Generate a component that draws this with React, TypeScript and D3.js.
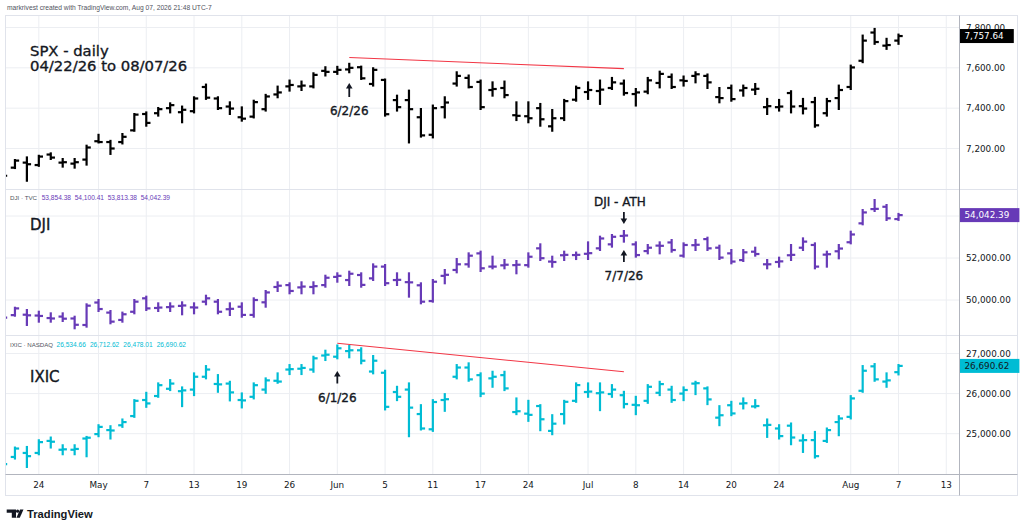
import * as d3 from 'd3'

const W = 1023
const H = 530

// bar index 0 = Apr 21 2026 (partly hidden at the left edge), 75 = Aug 7 2026
const tickIdx = [3, 8, 12, 16, 20, 24, 28, 32, 36, 40, 44, 49, 53, 57, 61, 65, 71, 75, 79]
const tickText = ['24', 'May', '7', '13', '19', '26', 'Jun', '5', '11', '17', '24', 'Jul', '8', '14', '20', '24', 'Aug', '7', '13']

// SPX daily OHLC
const spxO = [7060, 7105, 7130, 7118, 7170, 7130, 7125, 7145, 7236, 7232, 7232, 7290, 7371, 7375, 7400, 7380, 7385, 7505, 7448, 7408, 7355, 7358, 7395, 7468, 7508, 7508, 7508, 7585, 7580, 7592, 7603, 7520, 7540, 7440, 7440, 7355, 7268, 7405, 7522, 7550, 7530, 7490, 7500, 7365, 7360, 7400, 7310, 7350, 7442, 7480, 7485, 7500, 7522, 7470, 7482, 7525, 7555, 7538, 7560, 7560, 7455, 7500, 7488, 7492, 7405, 7405, 7475, 7410, 7430, 7375, 7450, 7505, 7635, 7775, 7710, 7735]
const spxH = [7080, 7143, 7156, 7164, 7176, 7148, 7148, 7214, 7268, 7238, 7272, 7371, 7379, 7401, 7424, 7408, 7454, 7517, 7454, 7429, 7404, 7437, 7466, 7507, 7537, 7532, 7573, 7603, 7605, 7620, 7606, 7598, 7542, 7462, 7487, 7396, 7413, 7454, 7578, 7562, 7537, 7528, 7532, 7429, 7429, 7421, 7391, 7441, 7507, 7528, 7537, 7550, 7537, 7495, 7550, 7581, 7567, 7557, 7578, 7567, 7500, 7512, 7512, 7520, 7446, 7441, 7484, 7446, 7451, 7446, 7512, 7611, 7760, 7793, 7744, 7765]
const spxL = [7050, 7103, 7040, 7114, 7148, 7110, 7105, 7120, 7230, 7173, 7225, 7288, 7313, 7363, 7379, 7330, 7379, 7446, 7396, 7371, 7338, 7354, 7388, 7454, 7487, 7490, 7503, 7562, 7570, 7578, 7545, 7512, 7363, 7388, 7230, 7259, 7255, 7354, 7512, 7503, 7396, 7462, 7454, 7341, 7330, 7313, 7288, 7341, 7437, 7446, 7421, 7495, 7467, 7413, 7474, 7503, 7500, 7512, 7528, 7500, 7429, 7437, 7462, 7470, 7371, 7388, 7379, 7374, 7308, 7363, 7396, 7495, 7628, 7719, 7694, 7719]
const spxC = [7065, 7140, 7122, 7160, 7155, 7132, 7132, 7205, 7232, 7200, 7258, 7368, 7327, 7395, 7415, 7392, 7448, 7452, 7400, 7398, 7348, 7430, 7458, 7478, 7515, 7512, 7565, 7580, 7590, 7600, 7548, 7590, 7370, 7405, 7395, 7265, 7400, 7428, 7560, 7505, 7405, 7495, 7465, 7362, 7350, 7345, 7350, 7435, 7500, 7490, 7492, 7528, 7475, 7478, 7538, 7570, 7505, 7535, 7568, 7528, 7450, 7445, 7500, 7496, 7410, 7408, 7408, 7398, 7315, 7435, 7490, 7602, 7735, 7728, 7713, 7757.64]

// DJI daily OHLC
const djiO = [49150, 49280, 49300, 49260, 49140, 49210, 49120, 48810, 49880, 49400, 49050, 49440, 50080, 49620, 49660, 49720, 49650, 49920, 49920, 49560, 49680, 49290, 49890, 50620, 50710, 50600, 50620, 50710, 51100, 50950, 51190, 51030, 51590, 50950, 50850, 50700, 49950, 51150, 51430, 51700, 52220, 51590, 51650, 51660, 51660, 52460, 51830, 52130, 52140, 52200, 52460, 52650, 53050, 52650, 52330, 52590, 52740, 52110, 52610, 52900, 52490, 52220, 51900, 52300, 51700, 51810, 52130, 52490, 52620, 52160, 52320, 52750, 53650, 54330, 54440, 53854.38]
const djiH = [49200, 49633, 49524, 49443, 49366, 49366, 49205, 49795, 50000, 49476, 49400, 50000, 50159, 49842, 49842, 49890, 49842, 50205, 50000, 49842, 49842, 50079, 50429, 50843, 50795, 50843, 50843, 51157, 51271, 51348, 51271, 51698, 51667, 51271, 51271, 50795, 50952, 51429, 51952, 52222, 52302, 52063, 51905, 51857, 52222, 52652, 52063, 52302, 52260, 52746, 53016, 53095, 53286, 52746, 52619, 52746, 52857, 52698, 52857, 52968, 52587, 52381, 52381, 52492, 51905, 52016, 52619, 52936, 52698, 52302, 52619, 53254, 54286, 54762, 54524, 54100.41]
const djiL = [49100, 49252, 48810, 48967, 48967, 49000, 48652, 48730, 49476, 48890, 48967, 49366, 49524, 49476, 49476, 49319, 49366, 49795, 49366, 49286, 49205, 49205, 49681, 50429, 50319, 50319, 50319, 50633, 50871, 50714, 50633, 50952, 50714, 50714, 50159, 49842, 49921, 50795, 51317, 51587, 51381, 51508, 51508, 51271, 51587, 51905, 51587, 51905, 51950, 51952, 52381, 52540, 52778, 52063, 52222, 52222, 52302, 52063, 52381, 52381, 51952, 51746, 51857, 52111, 51508, 51587, 51905, 52381, 51508, 51587, 51984, 52698, 53603, 54238, 53810, 53813.38]
const djiC = [49160, 49600, 49270, 49240, 49120, 49110, 48820, 49730, 49570, 48970, 49320, 49920, 49600, 49640, 49690, 49740, 49640, 50080, 49440, 49580, 49290, 50000, 50360, 50680, 50430, 50640, 50660, 51060, 51150, 51250, 50720, 51590, 50800, 50960, 50840, 49920, 50870, 51200, 51700, 52110, 51510, 51590, 51680, 51680, 52060, 51990, 51810, 52150, 52150, 52230, 52930, 53010, 53070, 52140, 52490, 52580, 52380, 52620, 52630, 52460, 52020, 51830, 52270, 52190, 51700, 51840, 52150, 52780, 51590, 52180, 52450, 53120, 54170, 54340, 53890, 54042.39]

// IXIC daily OHLC
const ixicO = [24230, 24420, 24520, 24520, 24820, 24600, 24600, 24880, 24990, 25090, 25210, 25440, 25840, 25940, 26120, 26060, 26100, 26420, 26240, 26250, 25840, 25920, 26100, 26320, 26600, 26620, 26600, 26950, 26920, 27060, 27080, 26550, 26520, 26040, 26100, 25490, 25110, 25840, 26420, 26650, 26460, 26380, 26460, 25540, 25500, 25690, 25070, 25490, 25820, 26040, 26010, 25990, 25960, 25720, 25820, 26020, 26100, 26000, 26250, 26130, 25400, 25710, 25750, 25680, 25210, 25130, 25200, 24830, 24840, 24820, 25290, 25420, 26070, 26680, 26300, 26534.66]
const ixicH = [24260, 24655, 24670, 24837, 24905, 24712, 24712, 24920, 25212, 25187, 25355, 25837, 26020, 26255, 26337, 26155, 26505, 26687, 26462, 26295, 26005, 26255, 26380, 26505, 26712, 26712, 26920, 27070, 27200, 27187, 27130, 26937, 26570, 26170, 26255, 25712, 25837, 25987, 26712, 26755, 26505, 26545, 26545, 25880, 25820, 25712, 25462, 25820, 26255, 26255, 26255, 26212, 26045, 25920, 26212, 26295, 26170, 26155, 26295, 26155, 25687, 25795, 25880, 25837, 25355, 25212, 25255, 24962, 25045, 25130, 25437, 25937, 26687, 26737, 26505, 26712.62]
const ixicL = [24200, 24380, 24170, 24487, 24655, 24487, 24487, 24437, 24937, 24880, 25170, 25420, 25670, 25920, 26087, 25687, 25962, 26380, 26045, 25830, 25655, 25880, 26020, 26270, 26487, 26487, 26545, 26837, 26880, 26905, 26755, 26505, 25605, 25837, 24937, 25105, 25070, 25570, 26380, 26320, 25937, 26170, 26087, 25487, 25320, 25087, 24987, 25255, 25795, 25920, 25587, 25920, 25655, 25487, 25770, 25962, 25795, 25837, 25987, 25737, 25212, 25462, 25630, 25655, 24920, 24880, 24737, 24545, 24405, 24795, 24962, 25380, 26045, 26320, 26170, 26478.01]
const ixicC = [24240, 24630, 24440, 24790, 24800, 24610, 24620, 24900, 25170, 25080, 25290, 25820, 25755, 26210, 26250, 26080, 26420, 26600, 26230, 26030, 25830, 26210, 26330, 26300, 26610, 26640, 26880, 26970, 27130, 27080, 26820, 26820, 25670, 25920, 25650, 25130, 25790, 25860, 26650, 26355, 26000, 26420, 26130, 25560, 25470, 25360, 25250, 25795, 26212, 26050, 26030, 26100, 25740, 25710, 26170, 26237, 25840, 26090, 26260, 25855, 25460, 25505, 25760, 25690, 25220, 24940, 24905, 24840, 24440, 25090, 25380, 25880, 26570, 26355, 26330, 26690.62]

// red trendlines: [bar index, price]
const spxTrend: [number, number][] = [[29, 7651], [52, 7596]]
const ixicTrend: [number, number][] = [[28, 27255], [52, 26545]]

const spxTicks = [7200, 7400, 7600, 7800]
const djiTicks = [50000, 52000, 54000]
const ixicTicks = [25000, 26000, 27000]

const djiLegend = ['53,854.38', '54,100.41', '53,813.38', '54,042.39']
const ixicLegend = ['26,534.66', '26,712.62', '26,478.01', '26,690.62']

const FONT = 'DejaVu Sans, Verdana, sans-serif'
const PLOT_L = 6
const PLOT_R = 959
const AXIS_Y = 474
const GRID = '#eceef2'
const TEXT = '#131722'

const x = d3.scaleLinear().domain([0, 75]).range([3, 898.5])
const fmt = d3.format(',.2f')

interface Panel {
  key: string
  top: number
  bottom: number
  o: number[]
  h: number[]
  l: number[]
  c: number[]
  color: string
  y: d3.ScaleLinear<number, number>
  ticks: number[]
  boxText: string
}

const panels: Panel[] = [
  {
    key: 'spx', top: 15, bottom: 189, o: spxO, h: spxH, l: spxL, c: spxC, color: '#000000',
    y: d3.scaleLinear().domain([7200, 7800]).range([148.5, 27.5]), ticks: spxTicks, boxText: '#ffffff',
  },
  {
    key: 'dji', top: 189, bottom: 335, o: djiO, h: djiH, l: djiL, c: djiC, color: '#673ab7',
    y: d3.scaleLinear().domain([50000, 54000]).range([300, 216]), ticks: djiTicks, boxText: '#ffffff',
  },
  {
    key: 'ixic', top: 335, bottom: AXIS_Y, o: ixicO, h: ixicH, l: ixicL, c: ixicC, color: '#00bcd4',
    y: d3.scaleLinear().domain([25000, 27000]).range([433.7, 353.5]), ticks: ixicTicks, boxText: '#131722',
  },
]

function Arrow({ cx, y1, y2 }: { cx: number; y1: number; y2: number }) {
  // y1 = tail, y2 = head
  const dir = y2 < y1 ? -1 : 1
  return (
    <g>
      <line x1={cx} y1={y1} x2={cx} y2={y2 - dir * 4} stroke={TEXT} strokeWidth={1.8} />
      <path d={`M${cx - 3.3},${y2 - dir * 5.5} L${cx + 3.3},${y2 - dir * 5.5} L${cx},${y2} Z`} fill={TEXT} />
    </g>
  )
}

function Bars({ p }: { p: Panel }) {
  return (
    <g clipPath={`url(#clip-${p.key})`}>
      {p.o.map((_, i) => {
        const cx = x(i)
        return (
          <g key={i} stroke={p.color} strokeWidth={2.2}>
            <line x1={cx} x2={cx} y1={p.y(p.h[i]) - 1} y2={p.y(p.l[i]) + 1} />
            <line x1={cx - 4.2} x2={cx} y1={p.y(p.o[i])} y2={p.y(p.o[i])} />
            <line x1={cx} x2={cx + 4.2} y1={p.y(p.c[i])} y2={p.y(p.c[i])} />
          </g>
        )
      })}
    </g>
  )
}

export default function App() {
  const spx = panels[0]
  const dji = panels[1]
  const ixic = panels[2]
  return (
    <svg
      width={W}
      height={H}
      style={{ position: 'absolute', left: 0, top: 0, display: 'block', background: '#fff' }}
      fontFamily={FONT}
    >
      <defs>
        {panels.map((p) => (
          <clipPath key={p.key} id={`clip-${p.key}`}>
            <rect x={PLOT_L} y={p.top} width={PLOT_R - PLOT_L} height={p.bottom - p.top} />
          </clipPath>
        ))}
      </defs>
      <rect x={0} y={0} width={W} height={H} fill="#ffffff" />

      <text x={7} y={10} fontSize={6.7} fill="#50535e" fontFamily="Liberation Sans, Arial, sans-serif">
        markrivest created with TradingView.com, Aug 07, 2026 21:48 UTC-7
      </text>

      {/* vertical grid */}
      {tickIdx.map((t) => (
        <line key={t} x1={x(t)} x2={x(t)} y1={15} y2={AXIS_Y} stroke={GRID} strokeWidth={1} />
      ))}
      {/* horizontal grid */}
      {panels.map((p) =>
        p.ticks.map((t) => (
          <line key={p.key + t} x1={PLOT_L} x2={PLOT_R} y1={p.y(t)} y2={p.y(t)} stroke={GRID} strokeWidth={1} />
        ))
      )}

      {/* frame + separators */}
      <rect x={5.5} y={15.5} width={1012} height={480} fill="none" stroke="#e0e3eb" strokeWidth={1} />
      <line x1={5.5} x2={1017.5} y1={189.5} y2={189.5} stroke="#e0e3eb" strokeWidth={1.2} />
      <line x1={5.5} x2={1017.5} y1={335.5} y2={335.5} stroke="#e0e3eb" strokeWidth={1.2} />
      <line x1={5.5} x2={1017.5} y1={AXIS_Y + 0.5} y2={AXIS_Y + 0.5} stroke="#b2b5be" strokeWidth={1} />
      <line x1={PLOT_R + 0.5} x2={PLOT_R + 0.5} y1={15.5} y2={495.5} stroke="#b2b5be" strokeWidth={1} />

      {/* trendlines */}
      <line
        x1={x(spxTrend[0][0])} y1={spx.y(spxTrend[0][1])}
        x2={x(spxTrend[1][0])} y2={spx.y(spxTrend[1][1])}
        stroke="#f23645" strokeWidth={1.1}
      />
      <line
        x1={x(ixicTrend[0][0])} y1={ixic.y(ixicTrend[0][1])}
        x2={x(ixicTrend[1][0])} y2={ixic.y(ixicTrend[1][1])}
        stroke="#f23645" strokeWidth={1.1}
      />

      {panels.map((p) => <Bars key={p.key} p={p} />)}

      {/* price axes */}
      {panels.map((p) =>
        p.ticks.map((t) => (
          <text key={p.key + 'l' + t} x={966} y={p.y(t)} dy="0.36em" fontSize={8.8} fill={TEXT}>
            {fmt(t)}
          </text>
        ))
      )}
      {panels.map((p) => {
        const last = p.c[p.c.length - 1]
        const label = fmt(last)
        const w = label.length * 5.6 + 9
        return (
          <g key={p.key + 'box'}>
            <rect x={960} y={p.y(last) - 7} width={w} height={14} fill={p.color} />
            <text x={964.5} y={p.y(last)} dy="0.36em" fontSize={8.8} fill={p.boxText}>
              {label}
            </text>
          </g>
        )
      })}

      {/* time axis */}
      {tickIdx.map((t, i) => (
        <text key={t} x={x(t)} y={487.5} textAnchor="middle" fontSize={8.8} fill={TEXT}>
          {tickText[i]}
        </text>
      ))}

      {/* legends */}
      <g fontFamily="Liberation Sans, Arial, sans-serif" fontSize={6.6}>
        <text x={10} y={200} fill="#50535e" fontSize={6.2}>DJI · TVC</text>
        {djiLegend.map((v, i) => (
          <text key={v} x={41.7 + i * 33} y={200} fill={dji.color}>{v}</text>
        ))}
        <text x={10} y={346.5} fill="#50535e" fontSize={6.1}>IXIC · NASDAQ</text>
        {ixicLegend.map((v, i) => (
          <text key={v} x={56.5 + i * 33.4} y={346.5} fill={ixic.color}>{v}</text>
        ))}
      </g>

      {/* annotations */}
      <g fill={TEXT} stroke={TEXT} strokeWidth={0.35}>
        <text x={30} y={55.5} fontSize={14.8}>
          SPX - daily
          <tspan x={30} y={71.3}>04/22/26 to 08/07/26</tspan>
        </text>
        <text x={30} y={230} fontSize={15}>DJI</text>
        <text x={30} y={381.5} fontSize={15}>IXIC</text>

        <text x={x(29)} y={115} fontSize={12} textAnchor="middle">6/2/26</text>
        <text x={x(52) - 4} y={205.5} fontSize={12} textAnchor="middle">DJI - ATH</text>
        <text x={x(52)} y={280} fontSize={12} textAnchor="middle">7/7/26</text>
        <text x={x(28)} y={401.5} fontSize={12} textAnchor="middle">6/1/26</text>
      </g>
      <Arrow cx={x(29)} y1={97} y2={83} />
      <Arrow cx={x(52)} y1={212} y2={224} />
      <Arrow cx={x(52)} y1={262} y2={250} />
      <Arrow cx={x(28)} y1={383.5} y2={371} />

      {/* TradingView logo */}
      <g fill={TEXT}>
        <path d="M6.7,509.5 H16 V517.7 H11.8 V512.8 H6.7 Z" />
        <circle cx={17.6} cy={511.2} r={1.6} />
        <path d="M20,509.5 H23.5 L19.8,517.7 H16.4 Z" />
        <text x={27} y={517.6} fontSize={11.2} fontWeight={700} fontFamily="Liberation Sans, Arial, sans-serif">
          TradingView
        </text>
      </g>
    </svg>
  )
}
